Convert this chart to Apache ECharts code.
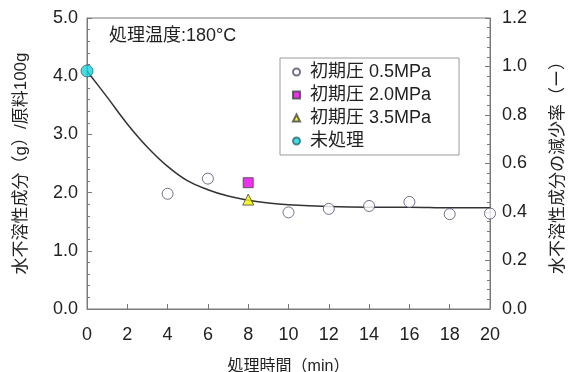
<!DOCTYPE html>
<html>
<head>
<meta charset="utf-8">
<script src="https://cdn.jsdelivr.net/npm/echarts@6/dist/echarts.min.js"></script>
<style>
  html, body { margin: 0; padding: 0; background: #fff; }
  #chart { width: 587px; height: 372px; }
</style>
</head>
<body>
<div id="chart"></div>
<script>
// Treatment time (min) and residual water-insoluble content (g / 100 g raw material)
const pressure05X = [4, 6, 10, 12, 14, 16, 18, 20];
const pressure05Y = [1.98, 2.24, 1.66, 1.72, 1.77, 1.84, 1.63, 1.64];
const pressure20 = [[8, 2.17]];
const pressure35 = [[8, 1.88]];
const untreated = [[0, 4.09]];

// Fitted trend curve
const curveX = [0, 1, 2, 3, 4, 5, 6, 7, 8, 9, 10, 12, 14, 16, 18, 20];
const curveY = [4.09, 3.64, 3.18, 2.78, 2.45, 2.20, 2.05, 1.94, 1.87, 1.82, 1.79, 1.76, 1.75, 1.75, 1.74, 1.74];

const xTicks = [0, 2, 4, 6, 8, 10, 12, 14, 16, 18, 20];
const leftTicks = [0, 1, 2, 3, 4, 5];
const rightTicks = [0, 0.2, 0.4, 0.6, 0.8, 1.0, 1.2];

const FONT = '"Liberation Sans", Arial, "Noto Sans CJK JP", sans-serif';
const AXIS_COLOR = '#7a7a7a';
const TEXT_COLOR = '#222';

const zip = (xs, ys) => xs.map((x, i) => [x, ys[i]]);

const chart = echarts.init(document.getElementById('chart'));
chart.setOption({
  animation: false,
  backgroundColor: '#fff',
  textStyle: { fontFamily: FONT },
  title: {
    text: '処理温度:180°C',
    left: 104, top: 22,
    textStyle: { fontFamily: FONT, fontSize: 18, fontWeight: 'normal', color: TEXT_COLOR }
  },
  grid: {
    left: 87, right: 97, top: 18, bottom: 63,
    containLabel: false, outerBoundsMode: 'none',
    show: true, borderColor: AXIS_COLOR, borderWidth: 1
  },
  legend: {
    data: ['初期圧 0.5MPa', '初期圧 2.0MPa', '初期圧 3.5MPa', '未処理'],
    orient: 'vertical',
    left: 280, top: 58,
    itemWidth: 7, itemHeight: 7, itemGap: 5,
    padding: [5, 28, 5, 12],
    borderColor: '#9a9a9a', borderWidth: 1,
    backgroundColor: '#fff',
    textStyle: { fontFamily: FONT, fontSize: 18, color: TEXT_COLOR, padding: [0, 0, 0, 5] }
  },
  xAxis: {
    type: 'value', min: 0, max: 20, interval: 2,
    name: '処理時間（min）', nameLocation: 'middle', nameGap: 50,
    nameTextStyle: { fontFamily: FONT, fontSize: 16, color: TEXT_COLOR },
    axisLine: { lineStyle: { color: AXIS_COLOR } },
    axisTick: { inside: true, length: 5, lineStyle: { color: AXIS_COLOR } },
    axisLabel: {
      margin: 17, fontSize: 18, color: TEXT_COLOR,
      formatter: v => xTicks.includes(v) ? String(v) : ''
    },
    splitLine: { show: false }
  },
  yAxis: [
    {
      type: 'value', min: 0, max: 5, interval: 1, position: 'left',
      name: '水不溶性成分（g）/原料100g', nameLocation: 'middle', nameGap: 57, nameRotate: 90,
      nameTextStyle: { fontFamily: FONT, fontSize: 17, color: TEXT_COLOR },
      axisLine: { show: true, lineStyle: { color: AXIS_COLOR } },
      axisTick: { show: true, inside: true, length: 5, lineStyle: { color: AXIS_COLOR } },
      minorTick: { show: true, splitNumber: 5, length: 3, lineStyle: { color: AXIS_COLOR } },
      axisLabel: {
        margin: 9, fontSize: 18, color: TEXT_COLOR,
        formatter: v => leftTicks.includes(v) ? v.toFixed(1) : ''
      },
      splitLine: { show: false }
    },
    {
      type: 'value', min: 0, max: 1.2, interval: 0.2, position: 'right',
      name: '水不溶性成分の減少率（ー）', nameLocation: 'middle', nameGap: 60, nameRotate: 90,
      nameTextStyle: { fontFamily: FONT, fontSize: 17, color: TEXT_COLOR },
      axisLine: { show: true, lineStyle: { color: AXIS_COLOR } },
      axisTick: { show: true, inside: true, length: 5, lineStyle: { color: AXIS_COLOR } },
      minorTick: { show: true, splitNumber: 5, length: 3, lineStyle: { color: AXIS_COLOR } },
      axisLabel: {
        margin: 12, fontSize: 18, color: TEXT_COLOR,
        formatter: v => {
          const r = Math.round(v * 10) / 10;
          return rightTicks.some(t => Math.abs(t - r) < 1e-9) ? r.toFixed(1) : '';
        }
      },
      splitLine: { show: false }
    }
  ],
  series: [
    {
      name: 'fit', type: 'line', yAxisIndex: 0,
      data: zip(curveX, curveY),
      smooth: 0.4, showSymbol: false, symbol: 'none',
      lineStyle: { color: '#333', width: 1.5 },
      silent: true, z: 1
    },
    {
      name: '初期圧 0.5MPa', type: 'scatter', yAxisIndex: 0,
      data: zip(pressure05X, pressure05Y),
      symbol: 'circle', symbolSize: 11,
      itemStyle: { color: '#fff', borderColor: '#4d4f70', borderWidth: 1 }, z: 3
    },
    {
      name: '初期圧 2.0MPa', type: 'scatter', yAxisIndex: 0,
      data: pressure20,
      symbol: 'rect', symbolSize: 10,
      itemStyle: { color: '#e600e6', borderColor: '#444', borderWidth: 1 }, z: 3
    },
    {
      name: '初期圧 3.5MPa', type: 'scatter', yAxisIndex: 0,
      data: pressure35,
      symbol: 'triangle', symbolSize: 11,
      itemStyle: { color: '#f2f200', borderColor: '#444', borderWidth: 1 }, z: 4
    },
    {
      name: '未処理', type: 'scatter', yAxisIndex: 0,
      data: untreated,
      symbol: 'circle', symbolSize: 12,
      itemStyle: { color: '#19d3dc', borderColor: '#2a6a70', borderWidth: 1 }, z: 4
    }
  ]
});
</script>
</body>
</html>
